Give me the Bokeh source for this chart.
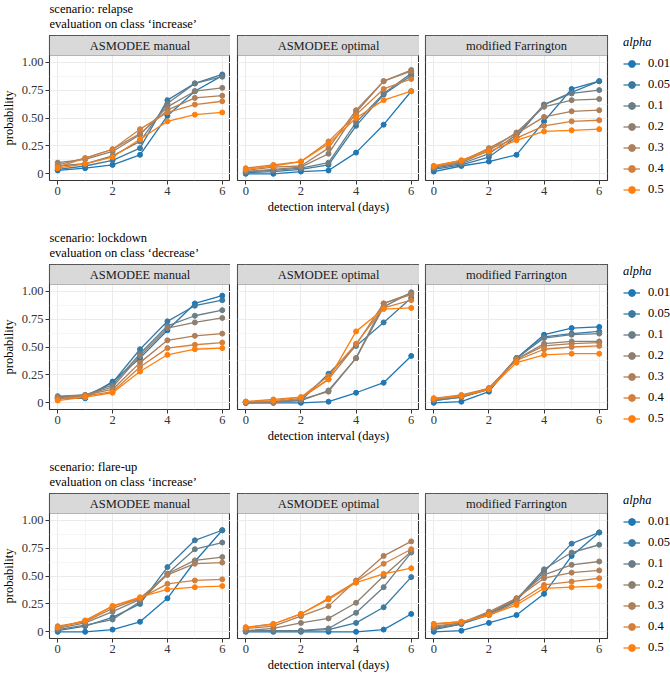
from bokeh.plotting import figure
from bokeh.layouts import row, column
from bokeh.models import Range1d, FixedTicker, Label, Legend, LegendItem, BoxAnnotation
from bokeh.embed import file_html
from bokeh.resources import INLINE
import math

# ---------------- data ----------------
days = [0, 1, 2, 3, 4, 5, 6]
alphas = ["0.01", "0.05", "0.1", "0.2", "0.3", "0.4", "0.5"]
methods = ["ASMODEE manual", "ASMODEE optimal", "modified Farrington"]
scenarios = ["relapse", "lockdown", "flare-up"]
eval_classes = ["increase", "decrease", "increase"]
y_ticks = [0, 0.25, 0.5, 0.75, 1.0]
y_tick_labels = ["0", "0.25", "0.50", "0.75", "1.00"]
x_ticks = [0, 2, 4, 6]

# rows: alpha 0.01, 0.05, 0.1, 0.2, 0.3, 0.4, 0.5
relapse_manual = [
    [0.03, 0.05, 0.08, 0.17, 0.52, 0.74, 0.88],
    [0.04, 0.07, 0.12, 0.23, 0.66, 0.81, 0.89],
    [0.07, 0.09, 0.16, 0.29, 0.63, 0.81, 0.87],
    [0.10, 0.13, 0.20, 0.35, 0.60, 0.74, 0.77],
    [0.08, 0.14, 0.22, 0.36, 0.57, 0.68, 0.70],
    [0.06, 0.14, 0.22, 0.40, 0.55, 0.62, 0.65],
    [0.05, 0.09, 0.15, 0.31, 0.47, 0.53, 0.55],
]
relapse_optimal = [
    [0.00, 0.00, 0.02, 0.03, 0.19, 0.44, 0.74],
    [0.01, 0.02, 0.04, 0.08, 0.43, 0.71, 0.88],
    [0.02, 0.03, 0.05, 0.10, 0.46, 0.72, 0.90],
    [0.02, 0.04, 0.06, 0.18, 0.55, 0.83, 0.93],
    [0.03, 0.06, 0.07, 0.23, 0.57, 0.83, 0.92],
    [0.05, 0.08, 0.11, 0.29, 0.53, 0.76, 0.85],
    [0.04, 0.07, 0.11, 0.27, 0.50, 0.66, 0.74],
]
relapse_farrington = [
    [0.02, 0.07, 0.11, 0.17, 0.47, 0.76, 0.83],
    [0.04, 0.08, 0.15, 0.33, 0.62, 0.73, 0.83],
    [0.05, 0.09, 0.18, 0.35, 0.62, 0.72, 0.75],
    [0.06, 0.10, 0.21, 0.37, 0.60, 0.66, 0.67],
    [0.06, 0.11, 0.23, 0.36, 0.51, 0.56, 0.57],
    [0.07, 0.12, 0.22, 0.32, 0.43, 0.47, 0.48],
    [0.07, 0.12, 0.20, 0.30, 0.38, 0.39, 0.40],
]
lockdown_manual = [
    [0.04, 0.04, 0.19, 0.40, 0.65, 0.89, 0.96],
    [0.05, 0.06, 0.18, 0.48, 0.73, 0.87, 0.92],
    [0.05, 0.07, 0.16, 0.44, 0.69, 0.78, 0.83],
    [0.06, 0.07, 0.14, 0.42, 0.67, 0.72, 0.76],
    [0.04, 0.07, 0.12, 0.36, 0.56, 0.60, 0.62],
    [0.03, 0.06, 0.10, 0.32, 0.49, 0.52, 0.54],
    [0.02, 0.05, 0.09, 0.28, 0.43, 0.48, 0.49],
]
lockdown_optimal = [
    [0.00, 0.00, 0.00, 0.01, 0.09, 0.18, 0.42],
    [0.00, 0.01, 0.02, 0.26, 0.51, 0.72, 0.94],
    [0.00, 0.01, 0.02, 0.11, 0.40, 0.86, 0.99],
    [0.00, 0.00, 0.03, 0.10, 0.40, 0.89, 0.98],
    [0.01, 0.01, 0.04, 0.21, 0.52, 0.89, 0.97],
    [0.01, 0.03, 0.05, 0.24, 0.53, 0.85, 0.92],
    [0.01, 0.02, 0.05, 0.21, 0.64, 0.84, 0.85],
]
lockdown_farrington = [
    [0.00, 0.01, 0.10, 0.40, 0.61, 0.67, 0.68],
    [0.02, 0.05, 0.12, 0.40, 0.59, 0.62, 0.64],
    [0.02, 0.05, 0.12, 0.40, 0.58, 0.61, 0.62],
    [0.03, 0.06, 0.13, 0.39, 0.53, 0.55, 0.55],
    [0.03, 0.06, 0.13, 0.39, 0.51, 0.53, 0.54],
    [0.04, 0.07, 0.13, 0.38, 0.48, 0.50, 0.51],
    [0.04, 0.06, 0.12, 0.36, 0.43, 0.44, 0.44],
]
flareup_manual = [
    [0.00, 0.00, 0.02, 0.09, 0.30, 0.63, 0.91],
    [0.01, 0.05, 0.13, 0.25, 0.58, 0.82, 0.91],
    [0.02, 0.06, 0.11, 0.27, 0.52, 0.74, 0.80],
    [0.03, 0.08, 0.18, 0.29, 0.52, 0.64, 0.67],
    [0.05, 0.09, 0.21, 0.30, 0.51, 0.61, 0.62],
    [0.04, 0.10, 0.23, 0.30, 0.43, 0.46, 0.47],
    [0.04, 0.10, 0.23, 0.31, 0.38, 0.40, 0.41],
]
flareup_optimal = [
    [0.00, 0.00, 0.00, 0.00, 0.00, 0.02, 0.16],
    [0.01, 0.01, 0.01, 0.02, 0.08, 0.22, 0.49],
    [0.01, 0.01, 0.01, 0.03, 0.17, 0.40, 0.71],
    [0.01, 0.03, 0.08, 0.12, 0.26, 0.50, 0.72],
    [0.03, 0.05, 0.14, 0.23, 0.46, 0.68, 0.81],
    [0.04, 0.07, 0.16, 0.30, 0.45, 0.61, 0.74],
    [0.04, 0.07, 0.16, 0.29, 0.44, 0.52, 0.57],
]
flareup_farrington = [
    [0.00, 0.01, 0.08, 0.15, 0.34, 0.68, 0.89],
    [0.02, 0.07, 0.15, 0.28, 0.54, 0.79, 0.89],
    [0.03, 0.07, 0.16, 0.29, 0.56, 0.71, 0.78],
    [0.04, 0.08, 0.17, 0.30, 0.51, 0.60, 0.63],
    [0.05, 0.08, 0.18, 0.30, 0.48, 0.53, 0.55],
    [0.07, 0.09, 0.15, 0.26, 0.42, 0.45, 0.48],
    [0.07, 0.09, 0.15, 0.24, 0.39, 0.40, 0.41],
]

panels = [
    [relapse_manual, relapse_optimal, relapse_farrington],
    [lockdown_manual, lockdown_optimal, lockdown_farrington],
    [flareup_manual, flareup_optimal, flareup_farrington],
]

# ---------------- style ----------------
colors = ["#1F77B4", "#3B7AA3", "#6A7E88", "#8E8071", "#AE7F59", "#D4803D", "#FF7F0E"]
FONT = "Liberation Serif"
FS = "12.5px"
DARK = "#333333"
TOTAL_W = 670
FW, FH, TOP = 182, 145, 35          # frame width, frame height (strip + panel), title band
STRIP_PX = 20
Y0, Y1 = -0.06, 1.06
YTOP = Y1 + STRIP_PX * (Y1 - Y0) / (FH - STRIP_PX)
YLAB_W = 18
LEFTS = [30, 7, 6]
RIGHTS = [0, 0, 16]
LEG_W = TOTAL_W - (YLAB_W + sum(LEFTS) + 3 * FW + sum(RIGHTS))


def blank_fig(width, height, xr=(0, 1), yr=(0, 1)):
    p = figure(width=width, height=height, x_range=Range1d(*xr), y_range=Range1d(*yr),
               output_backend="svg", toolbar_location=None,
               x_axis_location=None, y_axis_location=None,
               min_border=0, min_border_left=0, min_border_right=0,
               min_border_top=0, min_border_bottom=0)
    p.outline_line_color = None
    p.xgrid.visible = False
    p.ygrid.visible = False
    p.background_fill_color = "white"
    p.border_fill_color = "white"
    return p


def build_panel(r, c, bottom):
    data = panels[r][c]
    ml, mr = LEFTS[c], RIGHTS[c]
    p = figure(width=ml + FW + mr, height=FH + bottom,
               x_range=Range1d(-0.3, 6.3), y_range=Range1d(Y0, YTOP),
               output_backend="svg", toolbar_location=None,
               min_border_left=ml, min_border_right=mr,
               min_border_top=0, min_border_bottom=bottom,
               y_axis_location="left" if c == 0 else None)
    p.outline_line_color = DARK
    p.outline_line_width = 1.1
    p.background_fill_color = "white"
    p.border_fill_color = "white"

    # grids
    p.xgrid.ticker = FixedTicker(ticks=x_ticks, minor_ticks=[1, 3, 5])
    p.ygrid.ticker = FixedTicker(ticks=y_ticks, minor_ticks=[0.125, 0.375, 0.625, 0.875])
    for g in (p.xgrid, p.ygrid):
        g.grid_line_color = "#EBEBEB"
        g.grid_line_width = 1.1
        g.minor_grid_line_color = "#F2F2F2"
        g.minor_grid_line_width = 0.8

    # x axis
    xa = p.xaxis[0]
    xa.ticker = FixedTicker(ticks=x_ticks)
    xa.axis_line_color = None
    xa.major_tick_line_color = DARK
    xa.major_tick_out = 4
    xa.major_tick_in = 0
    xa.minor_tick_line_color = None
    xa.major_label_standoff = 2
    xa.major_label_text_font = FONT
    xa.major_label_text_font_size = FS
    xa.major_label_text_color = DARK
    if c == 1:
        xa.axis_label = "detection interval (days)"
        xa.axis_label_text_font = FONT
        xa.axis_label_text_font_size = FS
        xa.axis_label_text_font_style = "normal"
        xa.axis_label_text_color = "black"
        xa.axis_label_standoff = 2

    if c == 0:
        ya = p.yaxis[0]
        ya.ticker = FixedTicker(ticks=y_ticks)
        ya.major_label_overrides = {t: lab for t, lab in zip(y_ticks, y_tick_labels)}
        ya.axis_line_color = None
        ya.major_tick_line_color = DARK
        ya.major_tick_out = 4
        ya.major_tick_in = 0
        ya.minor_tick_line_color = None
        ya.major_label_standoff = 2
        ya.major_label_text_font = FONT
        ya.major_label_text_font_size = FS
        ya.major_label_text_color = DARK

    # series: lines first, then points on top
    for vals, col in zip(data, colors):
        p.line(days, vals, line_color=col, line_width=1.3)
    for vals, col in zip(data, colors):
        p.scatter(days, vals, size=5, fill_color=col, line_color=col)

    # facet strip
    p.add_layout(BoxAnnotation(bottom=Y1, fill_color="#D9D9D9", fill_alpha=1.0,
                               line_color=DARK, line_width=1.1))
    p.add_layout(Label(x=3, y=(Y1 + YTOP) / 2, text=methods[c], text_align="center",
                       text_baseline="middle", text_font=FONT, text_font_size=FS,
                       text_color="#1A1A1A"))
    return p


def build_legend(r, height):
    # legend-only plot: its renderers carry the row's data but lie outside its visible range
    p = blank_fig(LEG_W, height, xr=(-3, -2), yr=(-3, -2))
    items = []
    for vals, a, col in zip(panels[r][2], alphas, colors):
        lr = p.line(days, vals, line_color=col, line_width=1.3)
        sr = p.scatter(days, vals, size=5, fill_color=col, line_color=col)
        items.append(LegendItem(label=a, renderers=[lr, sr]))
    leg = Legend(items=items, location="top_left", title="alpha",
                 title_text_font=FONT, title_text_font_size=FS,
                 title_text_font_style="italic", title_text_color="black",
                 title_standoff=3,
                 label_text_font=FONT, label_text_font_size=FS,
                 label_text_color="black", label_standoff=8,
                 glyph_width=17, glyph_height=21, label_height=21,
                 spacing=0, padding=0, margin=0,
                 background_fill_alpha=0, border_line_alpha=0)
    p.add_layout(leg)
    return p


def build_ylabel(height):
    p = blank_fig(YLAB_W, height)
    # frame of this plot is aligned with the panel frames of the row
    p.add_layout(Label(x=8, y=(FH - STRIP_PX) / 2, x_units="screen", y_units="screen",
                       text="probability", angle=math.pi / 2, text_align="center",
                       text_baseline="middle", text_font=FONT, text_font_size=FS,
                       text_color="black"))
    return p


def build_title(r):
    p = blank_fig(TOTAL_W, TOP)
    x0 = YLAB_W + LEFTS[0] + 1
    p.add_layout(Label(x=x0, y=TOP - 8, x_units="screen", y_units="screen",
                       text="scenario: " + scenarios[r], text_align="left",
                       text_baseline="middle", text_font=FONT, text_font_size=FS,
                       text_color="black"))
    p.add_layout(Label(x=x0, y=TOP - 23.5, x_units="screen", y_units="screen",
                       text="evaluation on class \u2018" + eval_classes[r] + "\u2019",
                       text_align="left", text_baseline="middle", text_font=FONT,
                       text_font_size=FS, text_color="black"))
    return p


blocks = []
for r in range(3):
    bottom = 37 if r == 2 else 49
    h = FH + bottom
    panel_row = row(build_ylabel(h),
                    *[build_panel(r, c, bottom) for c in range(3)],
                    column(build_legend(r, h), spacing=0), spacing=0)
    blocks.append(column(build_title(r), panel_row, spacing=0))

layout = column(*blocks, spacing=0)

with open("out.html", "w") as f:
    f.write(file_html(layout, INLINE))
